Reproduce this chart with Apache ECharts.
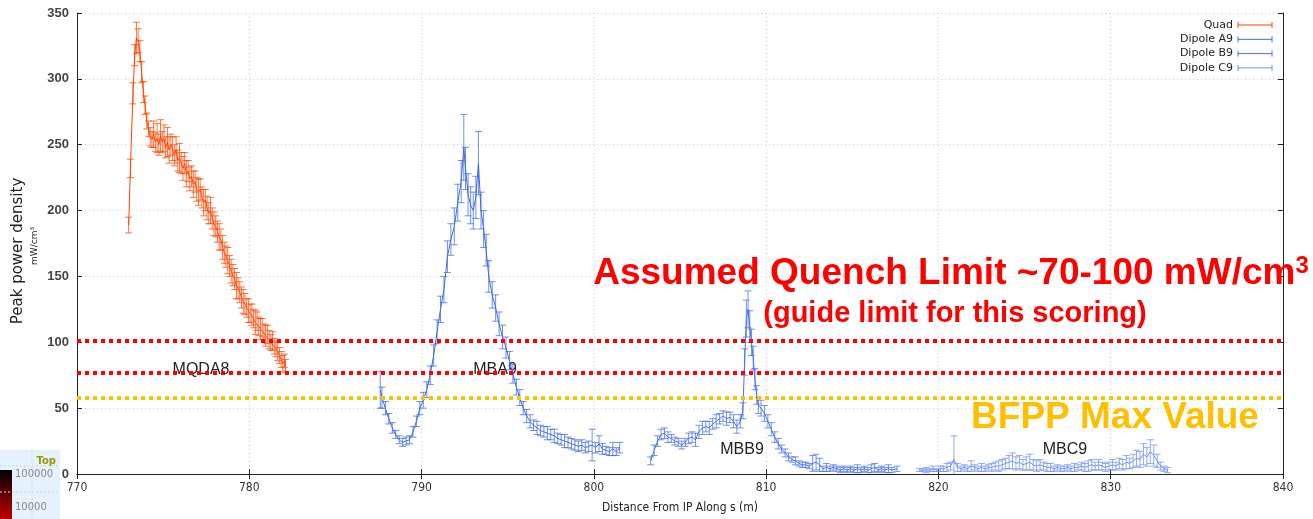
<!DOCTYPE html>
<html>
<head>
<meta charset="utf-8">
<script src="https://cdn.jsdelivr.net/npm/echarts@6/dist/echarts.min.js"></script>
<style>
  html, body { margin: 0; padding: 0; background: #fff; }
  #chart { width: 1313px; height: 519px; }
</style>
</head>
<body>
<div id="chart"></div>
<script>
// Peak power density along s, per magnet, with statistical error bars.
const quadS = [773.0,773.1,773.25,773.35,773.45,773.55,773.65,773.75,773.85,773.95,774.05,774.15,774.25,774.35,774.45,774.55,774.65,774.75,774.85,774.95,775.05,775.15,775.25,775.35,775.45,775.55,775.65,775.75,775.85,775.95,776.05,776.15,776.25,776.35,776.45,776.55,776.65,776.75,776.85,776.95,777.05,777.15,777.25,777.35,777.45,777.55,777.65,777.75,777.85,777.95,778.05,778.15,778.25,778.35,778.45,778.55,778.65,778.75,778.85,778.95,779.05,779.15,779.25,779.35,779.45,779.55,779.65,779.75,779.85,779.95,780.05,780.15,780.25,780.35,780.45,780.55,780.65,780.75,780.85,780.95,781.05,781.15,781.25,781.35,781.45,781.55,781.65,781.75,781.85,781.95,782.05,782.1];
const quadP = [189,232,289,318,331,329,321,305,290,280,268,262,256,254,258,252,255,250,257,252,255,248,252,246,250,247,242,246,238,240,236,232,236,228,230,224,226,220,222,216,214,216,210,206,208,202,198,200,194,190,188,184,180,178,172,168,165,162,158,154,151,148,143,141,138,134,131,129,126,124,122,121,118,115,116,112,110,111,107,105,106,102,100,101,97,95,93,90,87,84,86,82];
const quadE = [6,7,8,8,12,9,8,8,8,7,6,6,7,6,10,7,11,8,12,8,10,8,11,10,8,9,8,10,8,11,8,9,8,10,8,9,8,10,8,9,10,8,8,10,8,9,8,10,8,9,8,8,10,8,9,8,8,10,8,9,8,8,10,8,8,8,9,8,7,9,7,8,7,9,7,7,8,7,7,8,7,7,6,7,6,6,7,6,6,6,5,5];

const a9S = [787.6,787.7,787.9,788.1,788.3,788.5,788.7,788.9,789.1,789.3,789.5,789.7,789.9,790.1,790.3,790.5,790.7,790.9,791.1,791.3,791.5,791.7,791.9,792.1,792.3,792.45,792.55,792.7,792.85,793.0,793.15,793.3,793.45,793.6,793.75,793.9,794.1,794.3,794.5,794.7,794.9,795.1,795.3,795.5,795.7,795.9,796.1,796.3,796.5,796.7,796.9,797.1,797.3,797.5,797.7,797.9,798.1,798.3,798.5,798.7,798.9,799.1,799.3,799.5,799.7,799.9,800.1,800.3,800.5,800.7,800.9,801.1,801.3,801.5];
const a9P = [64,58,50,42,35,30,26,24,25,26,32,40,50,56,64,75,90,108,125,140,165,178,188,206,222,248,232,212,204,200,210,236,200,186,170,150,136,126,114,104,96,86,76,66,58,50,44,40,37,35,33,32,31,30,29,27,26,25,24,23,22,21,22,20,21,22,20,23,19,18,17,19,17,20];
const a9E = [14,8,5,4,4,3,3,3,3,3,4,4,5,6,6,7,8,9,10,10,12,12,14,14,16,25,16,16,14,14,16,24,14,14,12,12,10,10,9,9,8,7,7,6,6,5,5,5,4,5,4,4,5,4,5,4,4,5,4,4,4,4,4,4,4,12,4,6,4,3,3,5,3,4];

const b9S = [803.3,803.5,803.7,803.9,804.1,804.3,804.5,804.7,804.9,805.1,805.3,805.5,805.7,805.9,806.1,806.3,806.5,806.7,806.9,807.1,807.3,807.5,807.7,807.9,808.1,808.3,808.5,808.65,808.75,808.85,808.95,809.05,809.15,809.25,809.35,809.45,809.55,809.7,809.9,810.1,810.3,810.5,810.7,810.9,811.1,811.3,811.5,811.7,811.9,812.1,812.3,812.5,812.7,812.9,813.1,813.3,813.5,813.7,813.9,814.1,814.3,814.5,814.7,814.9,815.1,815.3,815.5,815.7,815.9,816.1,816.3,816.5,816.7,816.9,817.1,817.3,817.6];
const b9P = [10,18,25,30,31,28,27,25,24,22,24,27,28,26,32,35,36,35,38,40,42,44,42,43,40,36,40,48,85,118,125,112,100,88,72,60,52,50,46,40,34,28,23,19,16,13,11,10,8,7,7,6,8,9,7,4,5,4,5,4,3,4,3,4,3,4,3,4,3,4,5,3,4,3,4,3,4];
const b9E = [3,4,4,4,4,4,3,3,3,3,3,4,4,5,5,5,4,5,4,5,4,4,5,4,5,5,5,6,10,14,14,12,10,9,8,7,6,6,6,5,5,4,4,3,3,3,2,3,2,2,2,2,6,6,5,2,3,2,2,2,2,2,2,2,2,3,2,2,2,3,3,2,2,2,3,2,2];

const c9S = [818.9,819.1,819.3,819.5,819.7,819.9,820.1,820.3,820.5,820.7,820.9,821.1,821.3,821.5,821.7,821.9,822.1,822.3,822.5,822.7,822.9,823.1,823.3,823.5,823.7,823.9,824.1,824.3,824.5,824.7,824.9,825.1,825.3,825.5,825.7,825.9,826.1,826.3,826.5,826.7,826.9,827.1,827.3,827.5,827.7,827.9,828.1,828.3,828.5,828.7,828.9,829.1,829.3,829.5,829.7,829.9,830.1,830.3,830.5,830.7,830.9,831.1,831.3,831.5,831.7,831.9,832.1,832.3,832.5,832.7,832.9,833.1,833.3];
const c9P = [3,3,3,3,4,3,4,4,5,6,11,5,4,5,4,6,5,4,5,4,5,5,6,6,7,8,9,10,8,9,7,8,9,7,6,7,6,5,5,4,5,4,4,5,4,5,5,6,5,6,7,6,7,6,5,6,7,6,8,7,9,8,10,12,11,15,13,17,14,10,6,4,3];
const c9E = [1,1,2,1,2,1,2,2,3,3,18,3,2,2,2,4,2,2,3,2,2,3,3,4,4,4,5,6,5,5,4,5,6,4,4,4,3,3,3,2,2,2,2,2,2,3,2,3,3,4,4,3,4,3,3,3,4,3,4,4,5,4,5,6,6,8,7,9,8,5,3,2,2];

const xTicks = [770, 840, 10];
const yTicks = [0, 350, 50];
const seriesNames = ['Quad', 'Dipole A9', 'Dipole B9', 'Dipole C9'];
const seriesColors = ['#FF4500', '#4169E1', '#4A70E6', '#7090EE'];
const limitLines = [101, 77, 58];

const sets = [
  [quadS, quadP, quadE],
  [a9S, a9P, a9E],
  [b9S, b9P, b9E],
  [c9S, c9P, c9E]
];

function errBars(color) {
  return function (params, api) {
    const s = api.value(0);
    const lo = api.coord([s, api.value(1)]);
    const hi = api.coord([s, api.value(2)]);
    const w = 3.5;
    const style = { stroke: color, lineWidth: 1, opacity: 0.75 };
    return {
      type: 'group',
      children: [
        { type: 'line', shape: { x1: lo[0], y1: lo[1], x2: hi[0], y2: hi[1] }, style: style },
        { type: 'line', shape: { x1: lo[0] - w, y1: lo[1], x2: lo[0] + w, y2: lo[1] }, style: style },
        { type: 'line', shape: { x1: hi[0] - w, y1: hi[1], x2: hi[0] + w, y2: hi[1] }, style: style }
      ]
    };
  };
}

const series = [];
sets.forEach(function (set, i) {
  const S = set[0], P = set[1], E = set[2];
  series.push({
    name: seriesNames[i] + ' err',
    type: 'custom',
    renderItem: errBars(seriesColors[i]),
    data: S.map(function (s, k) { return [s, P[k] - E[k], P[k] + E[k]]; }),
    encode: { x: 0, y: [1, 2] },
    clip: true,
    silent: true,
    z: 3
  });
  series.push({
    name: seriesNames[i],
    type: 'line',
    data: S.map(function (s, k) { return [s, P[k]]; }),
    showSymbol: false,
    lineStyle: { color: seriesColors[i], width: 1 },
    itemStyle: { color: seriesColors[i] },
    silent: true,
    z: 4
  });
});

// quench / BFPP reference levels
series.push({
  type: 'line',
  data: [],
  silent: true,
  z: 5,
  markLine: {
    silent: true,
    symbol: 'none',
    label: { show: false },
    data: limitLines.map(function (v, i) {
      return {
        yAxis: v,
        lineStyle: { color: i < 2 ? '#FF0000' : '#FFC000', width: 4, type: [4, 4] }
      };
    })
  }
});

const graphics = [];

// legend
seriesNames.forEach(function (n, i) {
  const y = 25 + i * 14.3;
  graphics.push({
    type: 'text', x: 1233, y: y,
    style: { text: n, fill: '#222', font: '11px "DejaVu Sans"', align: 'right', verticalAlign: 'middle' }
  });
  const c = seriesColors[i];
  graphics.push({ type: 'line', shape: { x1: 1238, y1: y, x2: 1272, y2: y }, style: { stroke: c, lineWidth: 1 } });
  graphics.push({ type: 'line', shape: { x1: 1238, y1: y - 3, x2: 1238, y2: y + 3 }, style: { stroke: c, lineWidth: 1 } });
  graphics.push({ type: 'line', shape: { x1: 1272, y1: y - 3, x2: 1272, y2: y + 3 }, style: { stroke: c, lineWidth: 1 } });
});

// axis titles
graphics.push({
  type: 'text', x: 18, y: 251, rotation: Math.PI / 2,
  style: { text: 'Peak power density', fill: '#222', font: '15px "DejaVu Sans"', align: 'center', verticalAlign: 'middle' }
});
graphics.push({
  type: 'text', x: 35, y: 246, rotation: Math.PI / 2,
  style: { text: 'mW/cm³', fill: '#222', font: '9px "DejaVu Sans"', align: 'center', verticalAlign: 'middle' }
});

// magnet labels
[['MQDA8', 201, 370], ['MBA9', 495, 370], ['MBB9', 742, 450], ['MBC9', 1065, 450]].forEach(function (m) {
  graphics.push({
    type: 'text', x: m[1], y: m[2], z: 1,
    style: { text: m[0], fill: '#222', font: '16px "Liberation Sans"', align: 'center', verticalAlign: 'middle' }
  });
});

// annotations
graphics.push({
  type: 'text', x: 951, y: 273, z: 10,
  style: {
    text: '{a|Assumed Quench Limit ~70-100 mW/cm}{b|3}',
    align: 'center', verticalAlign: 'middle',
    rich: {
      a: { fill: '#FF0000', font: 'bold 37px "Liberation Sans"', verticalAlign: 'bottom' },
      b: { fill: '#FF0000', font: 'bold 24px "Liberation Sans"', verticalAlign: 'top', padding: [0, 0, 14, 0] }
    }
  }
});
graphics.push({
  type: 'text', x: 955, y: 314, z: 10,
  style: { text: '(guide limit for this scoring)', fill: '#FF0000', font: 'bold 29px "Liberation Sans"', align: 'center', verticalAlign: 'middle' }
});
graphics.push({
  type: 'text', x: 1115, y: 418, z: 10,
  style: { text: 'BFPP Max Value', fill: '#FFC000', font: 'bold 37px "Liberation Sans"', align: 'center', verticalAlign: 'middle' }
});

// colour-scale fragment in the lower-left corner
graphics.push({ type: 'rect', shape: { x: 0, y: 450, width: 60, height: 69 }, style: { fill: '#E6F2FB' } });
graphics.push({
  type: 'rect', shape: { x: 0, y: 470, width: 12, height: 49 },
  style: {
    fill: {
      type: 'linear', x: 0, y: 0, x2: 0, y2: 1,
      colorStops: [{ offset: 0, color: '#000' }, { offset: 0.45, color: '#5a0000' }, { offset: 1, color: '#c00000' }]
    }
  }
});
graphics.push({ type: 'line', shape: { x1: 0, y1: 466, x2: 60, y2: 466 }, style: { stroke: '#c8d8e8', lineWidth: 1, lineDash: [2, 2] } });
graphics.push({ type: 'line', shape: { x1: 0, y1: 492, x2: 60, y2: 492 }, style: { stroke: '#c8d8e8', lineWidth: 1, lineDash: [2, 2] } });
graphics.push({ type: 'line', shape: { x1: 32, y1: 450, x2: 32, y2: 519 }, style: { stroke: '#c8d8e8', lineWidth: 1, lineDash: [2, 2] } });
graphics.push({ type: 'text', x: 56, y: 461, style: { text: 'Top', fill: '#9a9a00', font: 'bold 10px "DejaVu Sans"', align: 'right', verticalAlign: 'middle' } });
graphics.push({ type: 'text', x: 15, y: 474, style: { text: '100000', fill: '#888', font: '10px "DejaVu Sans"', align: 'left', verticalAlign: 'middle' } });
graphics.push({ type: 'text', x: 15, y: 507, style: { text: '10000', fill: '#888', font: '10px "DejaVu Sans"', align: 'left', verticalAlign: 'middle' } });

const frame = { show: true, lineStyle: { color: '#222', width: 1 } };
const inTick = { show: true, inside: true, length: 5, lineStyle: { color: '#222' } };
const dotted = { show: true, lineStyle: { color: '#cfcfcf', type: [1, 3], width: 1 } };

const option = {
  animation: false,
  backgroundColor: '#fff',
  grid: { left: 77, right: 30, top: 13, bottom: 44 },
  xAxis: [
    {
      type: 'value', min: xTicks[0], max: xTicks[1], interval: xTicks[2],
      axisLine: frame, axisTick: inTick, splitLine: dotted,
      axisLabel: { color: '#333', fontFamily: '"DejaVu Sans Condensed", "DejaVu Sans"', fontSize: 12, margin: 8 },
      name: 'Distance From IP Along s (m)', nameLocation: 'middle', nameGap: 28,
      nameTextStyle: { color: '#222', fontFamily: '"DejaVu Sans Condensed", "DejaVu Sans"', fontSize: 12 }
    },
    {
      type: 'value', position: 'top', min: xTicks[0], max: xTicks[1], interval: xTicks[2],
      axisLine: frame, axisTick: inTick, splitLine: { show: false }, axisLabel: { show: false }
    }
  ],
  yAxis: [
    {
      type: 'value', min: yTicks[0], max: yTicks[1], interval: yTicks[2],
      axisLine: frame, axisTick: inTick, splitLine: dotted,
      axisLabel: { color: '#444', fontFamily: '"Liberation Sans"', fontWeight: 'bold', fontSize: 13, margin: 8 }
    },
    {
      type: 'value', position: 'right', min: yTicks[0], max: yTicks[1], interval: yTicks[2],
      axisLine: frame, axisTick: inTick, splitLine: { show: false }, axisLabel: { show: false }
    }
  ],
  series: series,
  graphic: { elements: graphics }
};

const chart = echarts.init(document.getElementById('chart'), null, { renderer: 'canvas' });
chart.setOption(option);
</script>
</body>
</html>
